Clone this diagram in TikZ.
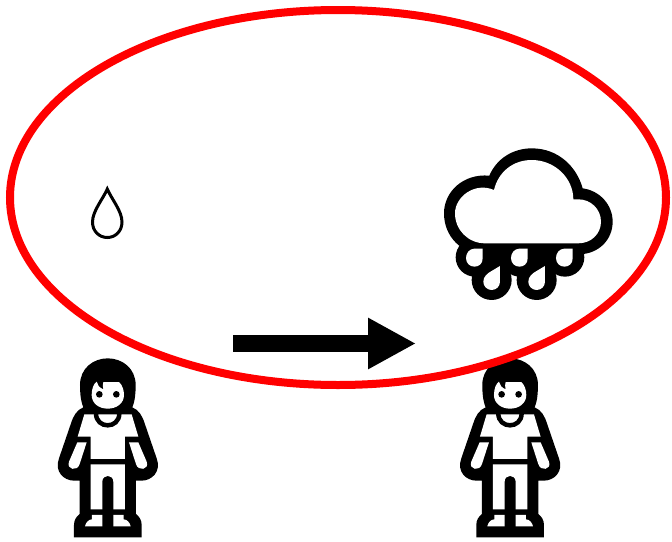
\documentclass[tikz,border=0pt]{standalone}
\usetikzlibrary{arrows.meta}
\tikzset{
  redloop/.style={draw=red,line width=8pt},
  bigarrow/.style={line width=17pt,-{Triangle[length=48pt,width=48pt]}},
  blk/.style={fill=black,draw=none},
  wht/.style={fill=white,draw=none},
}
\newcommand{\personfig}[2]{%
\begin{scope}[shift={(#1,#2)},x=0.3333pt,y=-0.3333pt]
  % silhouette
  \fill[blk] (130,172) .. controls (121,150) and (120,125) .. (120,105)
    .. controls (120,55) and (160,25) .. (203,25)
    .. controls (247,25) and (287,55) .. (287,105)
    .. controls (287,125) and (286,150) .. (277,172)
    .. controls (297,180) and (307,198) .. (314,220)
    -- (350,325) .. controls (365,365) and (335,392) .. (305,392)
    -- (288,392) -- (288,492) .. controls (298,500) and (305,510) .. (305,525)
    -- (305,562) -- (102,562) -- (102,525)
    .. controls (102,510) and (109,500) .. (119,492)
    -- (119,392) -- (102,392)
    .. controls (72,392) and (42,365) .. (57,325)
    -- (93,220) .. controls (100,198) and (110,180) .. (130,172) -- cycle;
  % face
  \fill[wht] (155,135) .. controls (155,115) and (162,100) .. (170,95)
    .. controls (172,105) and (178,113) .. (190,118)
    .. controls (188,110) and (188,103) .. (190,96)
    -- (237,96) .. controls (247,105) and (252,120) .. (252,135)
    .. controls (252,160) and (230,176) .. (203,176)
    .. controls (177,176) and (155,160) .. (155,135) -- cycle;
  \fill[blk] (178,133) circle[radius=10];
  \fill[blk] (229,133) circle[radius=10];
  % shirt
  \fill[wht] (133,193) -- (275,193) -- (295,260) -- (255,260) -- (255,327)
    -- (152,327) -- (152,260) -- (113,260) -- cycle;
  \draw[black,line width=4.5pt] (168,190) .. controls (168,238) and (238,238) .. (238,190);
  % sleeves and arms
  \fill[wht] (112,277) -- (140,277) -- (119,342)
    .. controls (113,365) and (78,360) .. (87,335) -- cycle;
  \fill[wht] (267,277) -- (295,277) -- (320,335)
    .. controls (329,360) and (294,365) .. (288,342) -- cycle;
  % trousers
  \fill[wht] (152,343) -- (255,343) -- (255,478) -- (220,478) -- (220,395)
    .. controls (220,372) and (187,372) .. (187,395)
    -- (187,478) -- (152,478) -- cycle;
  % shoes
  \fill[wht] (156,495) -- (187,495) -- (187,529) -- (135,529)
    .. controls (137,518) and (146,508) .. (156,508) -- cycle;
  \fill[wht] (220,495) -- (251,495) -- (251,508)
    .. controls (261,508) and (270,518) .. (272,529) -- (220,529) -- cycle;
\end{scope}}
\begin{document}
\begin{tikzpicture}[x=1pt,y=-1pt]
  \useasboundingbox (0,0) rectangle (672,541);
  \fill[white] (0,0) rectangle (672,541);
  % people
  \personfig{40}{350}
  \personfig{442.3}{350}
  % loop
  \draw[redloop] (338,197.5) ellipse[x radius=328,y radius=187.5];
  % arrow
  \coordinate (from) at (233,343.5);
  \coordinate (to) at (416,343.5);
  \draw[bigarrow] (from) -- (to);
  % single drop
  \draw[black,line width=3pt,miter limit=20] (107.3,189)
    .. controls (103,199) and (92.5,211) .. (92.5,222)
    .. controls (92.5,231) and (99,237.5) .. (107.3,237.5)
    .. controls (115.5,237.5) and (122,231) .. (122,222)
    .. controls (122,211) and (111.5,199) .. cycle;
  % rain cloud
  \begin{scope}[shift={(430,140)},x=0.3333pt,y=-0.3333pt]
    \fill[blk] (135,352) circle[radius=58];
    \fill[blk] (270,352) circle[radius=58];
    \fill[blk] (405,352) circle[radius=58];
    \fill[blk] (185,420) circle[radius=60];
    \fill[blk] (320,420) circle[radius=60];
    \fill[blk] (100,300) rectangle (440,395);
    % cloud outer
    \fill[blk] (178,107) .. controls (200,55) and (250,25) .. (305,25)
      .. controls (385,25) and (440,80) .. (458,145)
      .. controls (510,152) and (548,195) .. (548,245)
      .. controls (548,300) and (505,343) .. (445,343)
      -- (165,343) .. controls (95,343) and (42,290) .. (42,220)
      .. controls (42,155) and (100,100) .. (178,107) -- cycle;
    % cloud inner
    \fill[wht] (192,150) .. controls (205,95) and (250,60) .. (305,60)
      .. controls (375,60) and (430,115) .. (430,178)
      -- (445,178) .. controls (483,178) and (513,208) .. (513,245)
      .. controls (513,282) and (483,310) .. (445,310)
      -- (165,310) .. controls (115,310) and (75,270) .. (75,220)
      .. controls (75,170) and (135,125) .. (192,150) -- cycle;
    % upper drops
    \foreach \dx in {0,135,270}{
      \fill[wht,shift={(\dx,0)}] (158,326) -- (158,355)
        .. controls (158,371) and (147,380) .. (133,380)
        .. controls (119,380) and (108,369) .. (108,354)
        .. controls (108,339) and (119,326) .. (133,326) -- cycle;
    }
    % lower drops
    \foreach \dx in {0,135}{
      \fill[wht,shift={(\dx,0)}] (210,378) -- (210,425)
        .. controls (210,439) and (199,450) .. (185,450)
        .. controls (171,450) and (160,439) .. (160,425)
        .. controls (160,410) and (172,400) .. (185,393) -- cycle;
    }
  \end{scope}
\end{tikzpicture}
\end{document}
